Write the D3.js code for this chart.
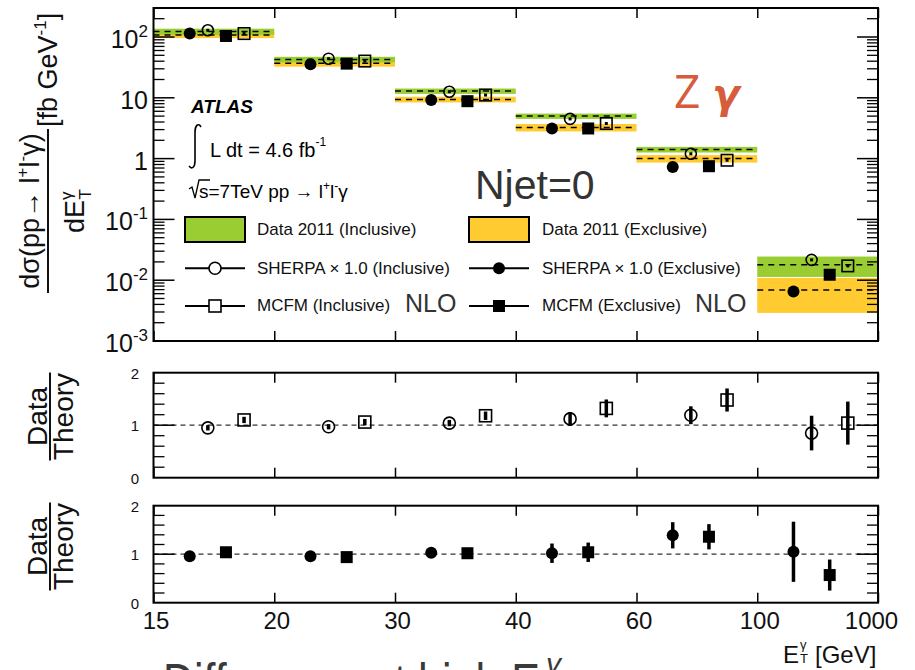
<!DOCTYPE html>
<html>
<head>
<meta charset="utf-8">
<script src="https://cdn.jsdelivr.net/npm/d3@7"></script>
<style>
  body { margin: 0; background: #fff; }
  svg { display: block; font-family: "Liberation Sans", Arial, Helvetica, sans-serif; }
</style>
</head>
<body>
<svg id="chart" width="915" height="670"></svg>
<script>
// E_T^gamma bins (drawn with equal widths) and their edge labels
const binEdges = ["15", "20", "30", "40", "60", "100", "1000"];
const bins = ["15-20", "20-30", "30-40", "40-60", "60-100", "100-1000"];

// Measured cross sections dσ/dE_T [fb/GeV] with total uncertainty
const dataIncl    = [123, 42.8, 12.9, 5.0, 1.41, 0.0179];
const dataInclErr = [14, 4.4, 1.3, 0.5, 0.15, 0.0066];
const dataExcl    = [108, 36.9, 9.4, 3.25, 1.0, 0.0069];
const dataExclErr = [12, 4.4, 1.0, 0.45, 0.14, 0.0040];

// Predictions
const sherpaIncl = [129, 44, 12.6, 4.5, 1.20, 0.0216];
const sherpaExcl = [114, 35.5, 9.2, 3.13, 0.73, 0.0065];
const mcfmIncl   = [114, 40.2, 11.1, 3.78, 0.94, 0.0172];
const mcfmExcl   = [104, 36.5, 8.8, 3.13, 0.75, 0.0123];

// Data / theory ratios
const ratioSherpaIncl    = [0.95, 0.97, 1.04, 1.12, 1.19, 0.85];
const ratioSherpaInclErr = [0.05, 0.05, 0.06, 0.13, 0.17, 0.33];
const ratioMcfmIncl      = [1.10, 1.06, 1.18, 1.32, 1.48, 1.04];
const ratioMcfmInclErr   = [0.06, 0.06, 0.08, 0.17, 0.22, 0.41];
const ratioSherpaExcl    = [0.96, 0.96, 1.03, 1.02, 1.39, 1.05];
const ratioSherpaExclErr = [0.05, 0.05, 0.05, 0.20, 0.27, 0.62];
const ratioMcfmExcl      = [1.04, 0.94, 1.02, 1.04, 1.36, 0.57];
const ratioMcfmExclErr   = [0.05, 0.05, 0.05, 0.20, 0.26, 0.32];

const mainTicks = [1e-3, 1e-2, 1e-1, 1, 10, 100];
const ratioTicks = [0, 1, 2];

const GREEN = "#9acd32", YELLOW = "#ffcb30";
const svg = d3.select("#chart");

const X0 = 153.5, X1 = 878;
const xEdge = d3.scalePoint().domain(binEdges).range([X0, X1]);
const xBin = d3.scaleBand().domain(bins).range([X0, X1]).padding(0);
const bw = xBin.bandwidth();
// horizontal slot of each prediction inside a bin
const slot = { sherpaExcl: 0.30, sherpaIncl: 0.45, mcfmExcl: 0.60, mcfmIncl: 0.75 };
const px = (i, k) => xBin(bins[i]) + slot[k] * bw;

const yMain = d3.scaleLog().domain([1e-3, 300]).range([341, 8]);
const yR1 = d3.scaleLinear().domain([0, 2]).range([477.7, 372.7]);
const yR2 = d3.scaleLinear().domain([0, 2]).range([602.7, 505.7]);

// ---------- marker helpers ----------
function openCircle(g, x, y, r, dot) {
  g.append("circle").attr("cx", x).attr("cy", y).attr("r", r)
    .attr("fill", "none").attr("stroke", "#000").attr("stroke-width", 1.6);
  if (dot) g.append("rect").attr("x", x - 1.5).attr("y", y - 1.5).attr("width", 3).attr("height", 3).attr("fill", "#000");
}
function filledCircle(g, x, y, r) {
  g.append("circle").attr("cx", x).attr("cy", y).attr("r", r).attr("fill", "#000");
}
function openSquare(g, x, y, s, dot) {
  g.append("rect").attr("x", x - s / 2).attr("y", y - s / 2).attr("width", s).attr("height", s)
    .attr("fill", "none").attr("stroke", "#000").attr("stroke-width", 1.6);
  if (dot) g.append("rect").attr("x", x - 1.5).attr("y", y - 1.5).attr("width", 3).attr("height", 3).attr("fill", "#000");
}
function filledSquare(g, x, y, s) {
  g.append("rect").attr("x", x - s / 2).attr("y", y - s / 2).attr("width", s).attr("height", s).attr("fill", "#000");
}

// ---------- main panel ----------
const gMain = svg.append("g");
// exclusive bands underneath, inclusive on top
bins.forEach((b, i) => {
  gMain.append("rect").attr("x", xBin(b)).attr("width", bw)
    .attr("y", yMain(dataExcl[i] + dataExclErr[i]))
    .attr("height", yMain(dataExcl[i] - dataExclErr[i]) - yMain(dataExcl[i] + dataExclErr[i]))
    .attr("fill", YELLOW);
});
bins.forEach((b, i) => {
  gMain.append("rect").attr("x", xBin(b)).attr("width", bw)
    .attr("y", yMain(dataIncl[i] + dataInclErr[i]))
    .attr("height", yMain(dataIncl[i] - dataInclErr[i]) - yMain(dataIncl[i] + dataInclErr[i]))
    .attr("fill", GREEN);
});
[dataIncl, dataExcl].forEach(arr => {
  bins.forEach((b, i) => {
    gMain.append("line").attr("x1", xBin(b)).attr("x2", xBin(b) + bw)
      .attr("y1", yMain(arr[i])).attr("y2", yMain(arr[i]))
      .attr("stroke", "#000").attr("stroke-width", 1.5).attr("stroke-dasharray", "6,5");
  });
});
bins.forEach((b, i) => {
  filledCircle(gMain, px(i, "sherpaExcl"), yMain(sherpaExcl[i]), 6);
  openCircle(gMain, px(i, "sherpaIncl"), yMain(sherpaIncl[i]), 5.5, true);
  filledSquare(gMain, px(i, "mcfmExcl"), yMain(mcfmExcl[i]), 12);
  openSquare(gMain, px(i, "mcfmIncl"), yMain(mcfmIncl[i]), 11.5, true);
});

// log-axis ticks on both sides
const minorVals = [];
for (let k = -3; k <= 2; k++) for (let m = 2; m <= 9; m++) { const v = m * Math.pow(10, k); if (v <= 300) minorVals.push(v); }
function yTicks(g, scale, majors, minors, majLen, minLen) {
  majors.forEach(v => {
    g.append("line").attr("x1", X0).attr("x2", X0 + majLen).attr("y1", scale(v)).attr("y2", scale(v)).attr("stroke", "#000").attr("stroke-width", 1.5);
    g.append("line").attr("x1", X1).attr("x2", X1 - majLen).attr("y1", scale(v)).attr("y2", scale(v)).attr("stroke", "#000").attr("stroke-width", 1.5);
  });
  minors.forEach(v => {
    g.append("line").attr("x1", X0).attr("x2", X0 + minLen).attr("y1", scale(v)).attr("y2", scale(v)).attr("stroke", "#000").attr("stroke-width", 1.3);
    g.append("line").attr("x1", X1).attr("x2", X1 - minLen).attr("y1", scale(v)).attr("y2", scale(v)).attr("stroke", "#000").attr("stroke-width", 1.3);
  });
}
yTicks(gMain, yMain, mainTicks, minorVals, 21, 11);

// decade labels
const expOf = v => Math.round(Math.log10(v));
mainTicks.forEach(v => {
  const e = expOf(v);
  const t = gMain.append("text").attr("x", 148).attr("y", yMain(v) + 11)
    .attr("text-anchor", "end").attr("font-size", 25).attr("fill", "#111");
  if (e === 0) t.text("1");
  else if (e === 1) t.text("10");
  else {
    t.append("tspan").text("10");
    t.append("tspan").attr("font-size", 17).attr("dy", -11).text(String(e));
  }
});

// x ticks (top/bottom) for every panel
function xTicks(yTop, yBot) {
  svg.append("g").attr("transform", `translate(0,${yTop})`)
    .call(d3.axisTop(xEdge).tickSizeInner(-10).tickSizeOuter(0).tickFormat(""))
    .call(g => g.select(".domain").remove())
    .call(g => g.selectAll("line").attr("stroke-width", 1.5));
  svg.append("g").attr("transform", `translate(0,${yBot})`)
    .call(d3.axisBottom(xEdge).tickSizeInner(-10).tickSizeOuter(0).tickFormat(""))
    .call(g => g.select(".domain").remove())
    .call(g => g.selectAll("line").attr("stroke-width", 1.5));
}
xTicks(8, 341);
xTicks(372.7, 477.7);
xTicks(505.7, 602.7);

// ---------- ratio panels ----------
function ratioPanel(scale, series) {
  const g = svg.append("g");
  g.append("line").attr("x1", X0).attr("x2", X1).attr("y1", scale(1)).attr("y2", scale(1))
    .attr("stroke", "#333").attr("stroke-width", 1.2).attr("stroke-dasharray", "5,4");
  const minors = d3.range(0.2, 2, 0.2).filter(v => Math.abs(v - 1) > 1e-6);
  yTicks(g, scale, [1], minors, 21, 11);
  ratioTicks.forEach(v => {
    g.append("text").attr("x", 139).attr("y", scale(v) + 6).attr("text-anchor", "end")
      .attr("font-size", 15).attr("fill", "#111").text(v);
  });
  series.forEach(s => {
    bins.forEach((b, i) => {
      const x = px(i, s.slot), y = scale(s.vals[i]);
      g.append("line").attr("x1", x).attr("x2", x)
        .attr("y1", scale(s.vals[i] + s.errs[i])).attr("y2", scale(s.vals[i] - s.errs[i]))
        .attr("stroke", "#000").attr("stroke-width", 3.5);
      if (s.kind === "oc") openCircle(g, x, y, 6, false);
      if (s.kind === "os") openSquare(g, x, y, 12, false);
      if (s.kind === "fc") filledCircle(g, x, y, 6);
      if (s.kind === "fs") filledSquare(g, x, y, 12);
    });
  });
}
ratioPanel(yR1, [
  { slot: "sherpaIncl", vals: ratioSherpaIncl, errs: ratioSherpaInclErr, kind: "oc" },
  { slot: "mcfmIncl", vals: ratioMcfmIncl, errs: ratioMcfmInclErr, kind: "os" }
]);
ratioPanel(yR2, [
  { slot: "sherpaExcl", vals: ratioSherpaExcl, errs: ratioSherpaExclErr, kind: "fc" },
  { slot: "mcfmExcl", vals: ratioMcfmExcl, errs: ratioMcfmExclErr, kind: "fs" }
]);

// x labels under the last panel
const xl = svg.append("g").attr("transform", "translate(0,602.7)")
  .call(d3.axisBottom(xEdge).tickSize(0).tickPadding(9))
  .call(g => g.select(".domain").remove());
xl.selectAll("text").attr("font-size", 24).attr("font-family", "Liberation Sans, Arial, sans-serif").attr("fill", "#111")
  .attr("dx", d => d === "1000" ? -7 : 2);

// axis title E_T^gamma [GeV]
const et = svg.append("text").attr("y", 663).attr("font-size", 24).attr("fill", "#111");
et.append("tspan").attr("x", 783).text("E");
et.append("tspan").attr("x", 800).attr("dy", -14).attr("font-size", 13).text("γ");
et.append("tspan").attr("x", 800).attr("dy", 14).attr("font-size", 13).text("T");
et.append("tspan").attr("x", 815).text("[GeV]");

// frames
[[8, 341], [372.7, 477.7], [505.7, 602.7]].forEach(([a, b]) => {
  svg.append("rect").attr("x", X0).attr("y", a).attr("width", X1 - X0).attr("height", b - a)
    .attr("fill", "none").attr("stroke", "#000").attr("stroke-width", 2);
});

// ---------- y titles (rotated) ----------
const yt = svg.append("g").attr("transform", "rotate(-90)").attr("fill", "#111");
const num = yt.append("text").attr("x", -211).attr("y", 39).attr("text-anchor", "middle").attr("font-size", 27);
num.append("tspan").text("dσ(pp→ l");
num.append("tspan").attr("font-size", 17).attr("dy", -11).text("+");
num.append("tspan").attr("dy", 11).text("l");
num.append("tspan").attr("font-size", 17).attr("dy", -11).text("-");
num.append("tspan").attr("dy", 11).text("γ)");
yt.append("line").attr("x1", -293).attr("x2", -129).attr("y1", 48).attr("y2", 48).attr("stroke", "#111").attr("stroke-width", 2);
const den = yt.append("text").attr("x", -211).attr("y", 84).attr("text-anchor", "middle").attr("font-size", 27);
den.append("tspan").text("dE");
den.append("tspan").attr("font-size", 17).attr("dy", -12).text("γ");
den.append("tspan").attr("font-size", 17).attr("dx", -8).attr("dy", 19).text("T");
const unit = yt.append("text").attr("x", -127).attr("y", 57).attr("font-size", 27);
unit.append("tspan").text("[fb GeV");
unit.append("tspan").attr("font-size", 17).attr("dy", -11).text("-1");
unit.append("tspan").attr("dy", 11).text("]");

function ratioTitle(c) {
  yt.append("text").attr("x", -c).attr("y", 47).attr("text-anchor", "middle").attr("font-size", 28).text("Data");
  yt.append("line").attr("x1", -c - 44).attr("x2", -c + 44).attr("y1", 50).attr("y2", 50).attr("stroke", "#111").attr("stroke-width", 2);
  yt.append("text").attr("x", -c).attr("y", 73).attr("text-anchor", "middle").attr("font-size", 28).text("Theory");
}
ratioTitle(416.5);
ratioTitle(546.5);

// ---------- annotations ----------
svg.append("text").attr("x", 191).attr("y", 113).attr("font-size", 19).attr("font-weight", "bold")
  .attr("font-style", "italic").attr("fill", "#000").text("ATLAS");
svg.append("path").attr("d", "M201,127 C198,122 195,126 195,132 L195,161 C195,167 192,170 189,166")
  .attr("fill", "none").attr("stroke", "#000").attr("stroke-width", 1.6);
const lumi = svg.append("text").attr("x", 210).attr("y", 156.5).attr("font-size", 20).attr("fill", "#000");
lumi.append("tspan").text("L dt = 4.6 fb");
lumi.append("tspan").attr("font-size", 12).attr("dy", -11).text("-1");
svg.append("path").attr("d", "M189,189 L192,187 L195,198 L199,180 L210,180")
  .attr("fill", "none").attr("stroke", "#000").attr("stroke-width", 1.3);
const proc = svg.append("text").attr("x", 199).attr("y", 198).attr("font-size", 19).attr("fill", "#000");
proc.append("tspan").text("s=7TeV  pp → l");
proc.append("tspan").attr("font-size", 12).attr("dy", -8).text("+");
proc.append("tspan").attr("dy", 8).text("l");
proc.append("tspan").attr("font-size", 12).attr("dy", -8).text("-");
proc.append("tspan").attr("dy", 8).text("γ");

svg.append("text").attr("x", 475).attr("y", 199).attr("font-size", 41).attr("fill", "#333").text("Njet=0");

const zg = svg.append("text").attr("x", 674).attr("y", 108).attr("font-size", 46).attr("fill", "#d65c3c");
zg.append("tspan").attr("font-family", "Open Sans, sans-serif").text("Z ");
zg.append("tspan").attr("font-family", "DejaVu Sans, sans-serif").attr("font-style", "italic").attr("font-weight", "bold").attr("font-size", 40).text("γ");

// legend
const lg = svg.append("g");
lg.append("rect").attr("x", 185).attr("y", 217).attr("width", 60).attr("height", 25).attr("fill", GREEN).attr("stroke", "#000").attr("stroke-width", 2);
lg.append("rect").attr("x", 469).attr("y", 217).attr("width", 60).attr("height", 25).attr("fill", YELLOW).attr("stroke", "#000").attr("stroke-width", 2);
[[268.3], [306]].forEach(([y]) => {
  lg.append("line").attr("x1", 185).attr("x2", 245).attr("y1", y).attr("y2", y).attr("stroke", "#000").attr("stroke-width", 2);
  lg.append("line").attr("x1", 469).attr("x2", 529).attr("y1", y).attr("y2", y).attr("stroke", "#000").attr("stroke-width", 2);
});
lg.append("circle").attr("cx", 215).attr("cy", 268.3).attr("r", 6).attr("fill", "#fff").attr("stroke", "#000").attr("stroke-width", 1.6);
filledCircle(lg, 499, 268.3, 6);
lg.append("rect").attr("x", 209).attr("y", 300).attr("width", 12).attr("height", 12).attr("fill", "#fff").attr("stroke", "#000").attr("stroke-width", 1.6);
filledSquare(lg, 499, 306, 12);
const legText = [
  [257, 235, "Data 2011 (Inclusive)"], [542, 235, "Data 2011 (Exclusive)"],
  [257, 273.5, "SHERPA × 1.0 (Inclusive)"], [542, 273.5, "SHERPA × 1.0 (Exclusive)"],
  [257, 310.7, "MCFM (Inclusive)"], [542, 310.7, "MCFM (Exclusive)"]
];
legText.forEach(([x, y, t]) => lg.append("text").attr("x", x).attr("y", y).attr("font-size", 17).attr("fill", "#111").text(t));
lg.append("text").attr("x", 405).attr("y", 311.5).attr("font-size", 25).attr("fill", "#333").text("NLO");
lg.append("text").attr("x", 695).attr("y", 311.5).attr("font-size", 25).attr("fill", "#333").text("NLO");

// slide caption below the figure (runs past the bottom edge)
const cap = svg.append("text").attr("y", 700).attr("font-size", 52).attr("fill", "#3a3a3a");
cap.append("tspan").attr("x", 163).attr("textLength", 377).attr("lengthAdjust", "spacingAndGlyphs").text("Difference at high E");
cap.append("tspan").attr("x", 546).attr("y", 674).attr("font-size", 30).attr("font-style", "italic").text("γ");
</script>
</body>
</html>
